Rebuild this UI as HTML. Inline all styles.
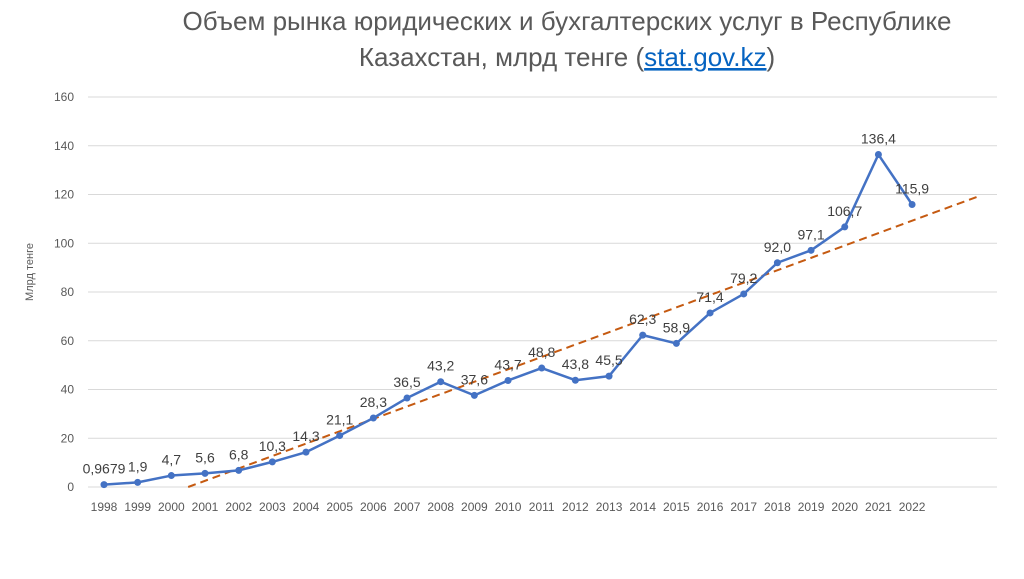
<!DOCTYPE html>
<html><head><meta charset="utf-8"><style>
body{margin:0;background:#fff;}
svg text{font-family:"Liberation Sans",sans-serif;}
</style></head><body>
<svg width="1024" height="574" viewBox="0 0 1024 574">
<text x="567" y="30" text-anchor="middle" font-size="26" fill="#595959">Объем рынка юридических и бухгалтерских услуг в Республике</text>
<text x="567" y="66" text-anchor="middle" font-size="26" fill="#595959">Казахстан, млрд тенге (<tspan fill="#0563c1" text-decoration="underline">stat.gov.kz</tspan>)</text>
<text transform="translate(33,272) rotate(-90)" text-anchor="middle" font-size="11" fill="#595959">Млрд тенге</text>
<g id="grid"></g><g id="plot"></g>
<script>
const years=["1998","1999","2000","2001","2002","2003","2004","2005","2006","2007","2008","2009","2010","2011","2012","2013","2014","2015","2016","2017","2018","2019","2020","2021","2022"];
const values=[0.9679,1.9,4.7,5.6,6.8,10.3,14.3,21.1,28.3,36.5,43.2,37.6,43.7,48.8,43.8,45.5,62.3,58.9,71.4,79.2,92.0,97.1,106.7,136.4,115.9];
const labels=["0,9679","1,9","4,7","5,6","6,8","10,3","14,3","21,1","28,3","36,5","43,2","37,6","43,7","48,8","43,8","45,5","62,3","58,9","71,4","79,2","92,0","97,1","106,7","136,4","115,9"];
const yTicks=[0,20,40,60,80,100,120,140,160];
const trend=[[2.5,0],[26,119.4]];
const NS="http://www.w3.org/2000/svg";
const X=i=>104+i*33.67, Y=v=>487-v*2.4375;
function mk(p,t,a){const e=document.createElementNS(NS,t);for(const k in a)e.setAttribute(k,a[k]);p.appendChild(e);return e;}
const g=document.getElementById('grid'),p=document.getElementById('plot');
yTicks.forEach(t=>{
 const l=mk(g,'line',{x1:88,x2:997,y1:Y(t),y2:Y(t),stroke:'#d9d9d9','stroke-width':1});
 
 
 const tx=mk(g,'text',{x:74,y:Y(t)+4,'text-anchor':'end','font-size':12,fill:'#595959'});tx.textContent=t;
 
 
});
years.forEach((y,i)=>{
 const tx=mk(g,'text',{x:X(i),y:511,'text-anchor':'middle','font-size':12,fill:'#595959'});tx.textContent=y;
 
 
});
const tl=mk(p,'line',{x1:X(trend[0][0]),y1:Y(trend[0][1]),x2:X(trend[1][0]),y2:Y(trend[1][1]),stroke:'#c55a11','stroke-width':2,'stroke-dasharray':'8,5'});


const pl=mk(p,'polyline',{points:values.map((v,i)=>X(i)+','+Y(v)).join(' '),fill:'none',stroke:'#4472c4','stroke-width':2.5,'stroke-linejoin':'round'});


values.forEach((v,i)=>{
 const c=mk(p,'circle',{cx:X(i),cy:Y(v),r:3.5,fill:'#4472c4'});
 
 
 const t=mk(p,'text',{x:X(i),y:Y(v)-11,'text-anchor':'middle','font-size':14,fill:'#404040'});t.textContent=labels[i];
 
 
});
</script>
</svg>
</body></html>
